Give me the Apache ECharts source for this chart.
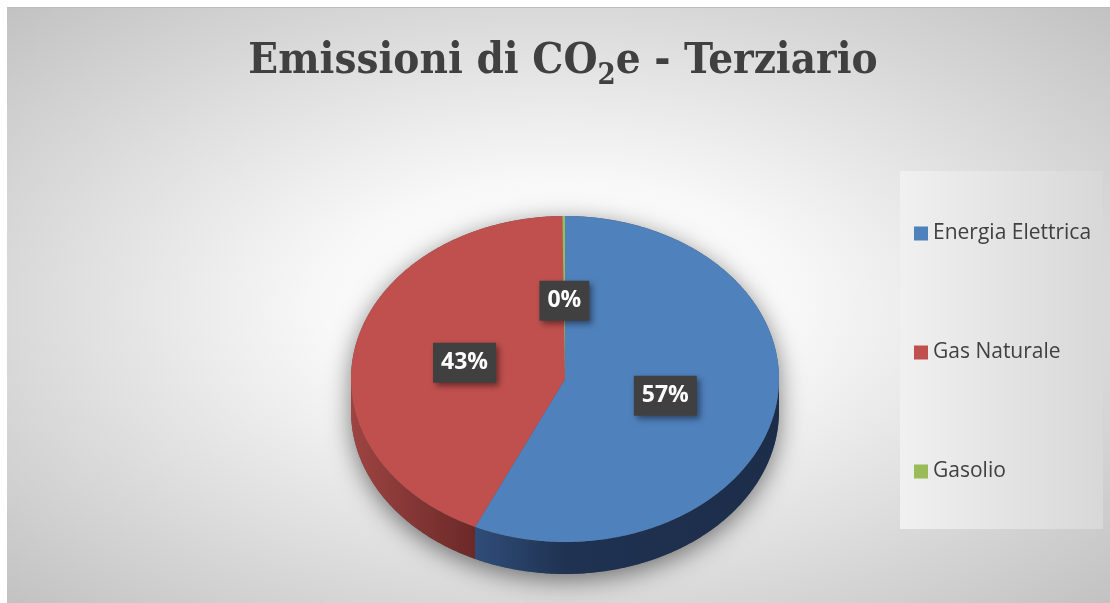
<!DOCTYPE html>
<html>
<head>
<meta charset="utf-8">
<script src="https://cdn.jsdelivr.net/npm/echarts@6/dist/echarts.min.js"></script>
<style>
  html, body { margin: 0; padding: 0; background: #fff; }
  #chart {
    position: absolute; left: 7px; top: 7px; width: 1103px; height: 596px;
    border-top: 1px solid #bdbdbd; box-sizing: border-box;
    background: radial-gradient(farthest-corner at 50% 50%, #ffffff 0%, #f8f8f8 30%, #c2c2c2 100%);
  }
</style>
</head>
<body>
<div id="chart"></div>
<script>
const categories = ['Energia Elettrica', 'Gas Naturale', 'Gasolio'];
const values = [56.9, 42.9, 0.2];
const topColors = ['#4f81bd', '#c0504d', '#9bbb59'];
const sideColors = [
  [['#2f4d79', 0], ['#1f3251', 0.3], ['#1c2d4a', 1]],
  [['#9e4442', 0], ['#6a2928', 1]],
  [['#7a9444', 0], ['#5c7033', 1]]
];

const total = values.reduce((a, b) => a + b, 0);
const starts = [];
let acc = 0;
values.forEach(v => { starts.push(acc / total * Math.PI * 2); acc += v; });

// ellipse of the "3d" pie, in chart pixels
const pie = { cx: 558, cy: 371, rx: 214, ry: 163, depth: 32 };

const pt = (t, dy) => [pie.cx + pie.rx * Math.sin(t), pie.cy - pie.ry * Math.cos(t) + (dy || 0)];
function arc(a, b, dy) {
  const n = Math.max(2, Math.ceil(Math.abs(b - a) / 0.01));
  const out = [];
  for (let i = 0; i <= n; i++) out.push(pt(a + (b - a) * i / n, dy));
  return out;
}
const grad = stops => ({
  type: 'linear', x: 0, y: 0, x2: 1, y2: 0,
  colorStops: stops.map(s => ({ color: s[0], offset: s[1] }))
});

function sliceItem(i) {
  return function (params, api) {
    const a = starts[i];
    const b = a + api.value(0) / total * Math.PI * 2;
    const children = [];
    // front wall
    const sa = Math.max(a, Math.PI / 2), sb = Math.min(b, Math.PI * 1.5);
    if (sb > sa) {
      children.push({
        type: 'polygon', z2: 1,
        shape: { points: arc(sa, sb, 0).concat(arc(sa, sb, pie.depth).reverse()) },
        style: { fill: grad(sideColors[i]) }
      });
    }
    // top face
    children.push({
      type: 'polygon', z2: 2,
      shape: { points: [[pie.cx, pie.cy]].concat(arc(a, b, 0)) },
      style: { fill: topColors[i] }
    });
    // label
    const mid = (a + b) / 2;
    const p = [pie.cx + 0.48 * pie.rx * Math.sin(mid), pie.cy - 0.48 * pie.ry * Math.cos(mid)];
    children.push({
      type: 'text', z2: 10,
      x: p[0], y: p[1],
      style: {
        text: Math.round(api.value(0) / total * 100) + '%',
        fill: '#ffffff',
        font: 'bold 23px "Open Sans"',
        align: 'center', verticalAlign: 'middle',
        backgroundColor: '#404040',
        padding: [9, 8, 8, 8],
        shadowColor: 'rgba(0,0,0,0.45)', shadowBlur: 6, shadowOffsetX: 3, shadowOffsetY: 3
      }
    });
    return { type: 'group', children };
  };
}

const chart = echarts.init(document.getElementById('chart'));

const series = [{
  type: 'custom', name: 'ombra', coordinateSystem: 'none', silent: true, z: 1,
  data: [[total]],
  renderItem: () => ({
    type: 'polygon',
    shape: { points: arc(-Math.PI / 2, Math.PI / 2, 0).concat(arc(Math.PI / 2, Math.PI * 1.5, pie.depth)) },
    style: { fill: '#555', shadowColor: 'rgba(0,0,0,0.5)', shadowBlur: 24, shadowOffsetY: 6 }
  })
}].concat(categories.map((name, i) => ({
  type: 'custom', name, coordinateSystem: 'none', silent: true, z: 2,
  itemStyle: { color: topColors[i] },
  data: [[values[i]]],
  renderItem: sliceItem(i)
})));

chart.setOption({
  animation: false,
  title: {
    text: '{a|Emissioni di CO}{s|2}{a|e - Terziario}',
    left: 551, textAlign: 'center', top: 20,
    textStyle: {
      rich: {
        a: { fontFamily: 'DejaVu Serif Condensed', fontWeight: 'bold', fontSize: 43.5, color: '#404040' },
        s: { fontFamily: 'DejaVu Serif Condensed', fontWeight: 'bold', fontSize: 29, color: '#404040', padding: [29, 0, 0, 0] }
      }
    }
  },
  legend: {
    data: categories, orient: 'vertical', left: 893, top: 163,
    padding: [52, 12, 47, 14], itemGap: 98,
    itemWidth: 14, itemHeight: 14, icon: 'rect', selectedMode: false,
    textStyle: { fontFamily: 'Open Sans', fontSize: 21, color: '#404040', lineHeight: 20 },
    backgroundColor: grad([['#f0f0f0', 0], ['#d8d8d8', 1]])
  },
  series
});
</script>
</body>
</html>
